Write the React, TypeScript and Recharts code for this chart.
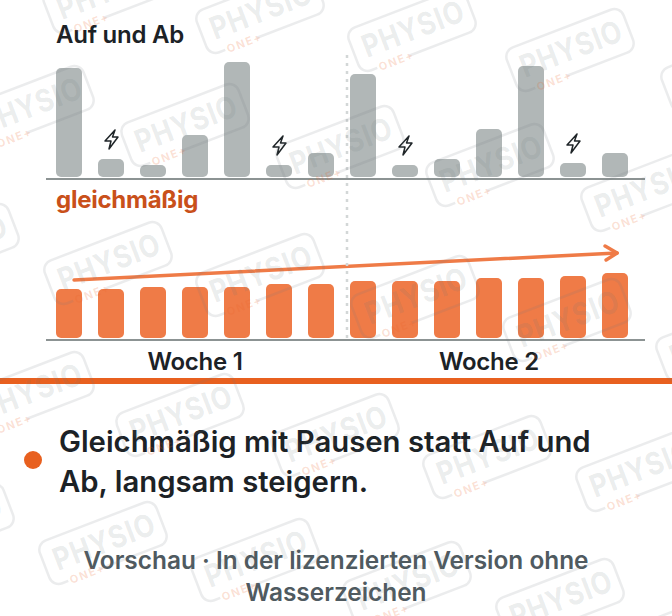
import { BarChart, Bar, ComposedChart, Line, XAxis, YAxis, LabelList } from 'recharts';

// Heights
const days = ['M1', 'D1', 'M2', 'D2', 'F1', 'S1', 'S2', 'M3', 'D3', 'M4', 'D4', 'F2', 'S3', 'S4'];
const upDown = [109, 18, 12, 42, 115, 12, 24, 103, 12, 18, 48, 111, 14, 24];
const steady = [49, 49, 51, 51, 51, 54, 54, 57, 57, 57, 60, 60, 62, 65];
const restDays = [1, 5, 8, 12];
const trendPos = [0.12, 13.05];
const trendVal = [58, 85];
const weekLabels = ['Woche 1', 'Woche 2'];

// Watermark stamp centres
const stamps = [
  [107, -8], [260, 12], [412, 30], [570, 50], [725, 70],
  [30, 107], [185, 125], [340, 147], [490, 165], [645, 190],
  [-45, 245], [108, 263], [260, 275], [415, 297], [567, 320], [720, 340],
  [30, 393], [180, 415], [335, 435], [487, 457], [640, 470],
  [-50, 525], [103, 543], [255, 560], [407, 583], [560, 600], [715, 620],
];

const upDownData = days.map((day, i) => ({ day, value: upDown[i] }));
const steadyData = days.map((day, i) => ({ day, value: steady[i] }));
const trendData = trendPos.map((pos, i) => ({ pos, trend: trendVal[i] }));

const font = 'Inter, "Noto Sans", sans-serif';
const axisLine = { stroke: '#8c9393', strokeWidth: 2 };
const orange = '#ef7b47';

function Bolt(props: any) {
  const { x, y, width, index } = props;
  if (!restDays.includes(index)) return null;
  return (
    <path
      transform={`translate(${x + width / 2},${y - 20})`}
      d="M4 -9 L-6 2 L0 2 L-2 10 L7 -2 L1.5 -2 Z"
      fill="none"
      stroke="#1f2528"
      strokeWidth={1.5}
      strokeLinejoin="round"
    />
  );
}

function ArrowHead(props: any) {
  const { cx, cy, index } = props;
  if (index !== trendPos.length - 1) return <g key={index} />;
  return (
    <path
      key={index}
      d={`M${cx - 12} ${cy - 7} L${cx} ${cy} L${cx - 11} ${cy + 7}`}
      fill="none"
      stroke={orange}
      strokeWidth={3.5}
      strokeLinecap="round"
      strokeLinejoin="round"
    />
  );
}

function Label({ x, y, w, size, color, weight = 600, center, children }: any) {
  return (
    <div
      style={{
        position: 'absolute',
        left: x,
        top: y,
        width: w,
        fontFamily: font,
        fontSize: size,
        fontWeight: weight,
        letterSpacing: -0.25,
        color,
        textAlign: center ? 'center' : 'left',
        whiteSpace: 'nowrap',
      }}
    >
      {children}
    </div>
  );
}

export default function App() {
  return (
    <div style={{ position: 'absolute', left: 0, top: 0, width: 672, height: 616, overflow: 'hidden', background: '#fff' }}>
      <Label x={56} y={20} size={24} color="#1c2226">Auf und Ab</Label>
      <Label x={56} y={185} size={24} weight={700} color="#c9501a">gleichmäßig</Label>

      <div style={{ position: 'absolute', left: 0, top: 0 }}>
        <BarChart width={672} height={180} data={upDownData} margin={{ top: 57, right: 27, bottom: 0, left: 46 }}>
          <XAxis dataKey="day" tick={false} tickLine={false} height={1} axisLine={axisLine} padding={{ left: 2, right: 9 }} />
          <YAxis hide width={0} domain={[-2, 120]} />
          <Bar dataKey="value" fill="#b1b7b7" barSize={26} radius={5} isAnimationActive={false}>
            <LabelList dataKey="value" content={Bolt} />
          </Bar>
        </BarChart>
      </div>

      <div style={{ position: 'absolute', left: 0, top: 0 }}>
        <ComposedChart width={672} height={341} data={steadyData} margin={{ top: 238, right: 27, bottom: 0, left: 46 }}>
          <XAxis dataKey="day" tick={false} tickLine={false} height={1} axisLine={axisLine} padding={{ left: 2, right: 9 }} />
          <XAxis xAxisId="trend" type="number" dataKey="pos" hide height={0} domain={[-0.5, 13.5]} padding={{ left: 2, right: 9 }} />
          <YAxis hide width={0} domain={[-2, 100]} />
          <Bar dataKey="value" fill={orange} barSize={26} radius={5} isAnimationActive={false} />
          <Line
            xAxisId="trend"
            data={trendData}
            dataKey="trend"
            stroke={orange}
            strokeWidth={3.5}
            strokeLinecap="round"
            dot={ArrowHead}
            activeDot={false}
            isAnimationActive={false}
          />
        </ComposedChart>
      </div>

      <svg width={672} height={616} style={{ position: 'absolute', left: 0, top: 0 }}>
        <line x1={347} y1={55} x2={347} y2={340} stroke="#d3d7d7" strokeWidth={2.5} strokeDasharray="3 5" />
      </svg>

      <Label x={49} y={347} w={292} size={24} color="#1c2226" center>{weekLabels[0]}</Label>
      <Label x={343} y={347} w={292} size={24} color="#1c2226" center>{weekLabels[1]}</Label>

      <div style={{ position: 'absolute', left: 0, top: 378, width: 672, height: 6, background: '#e8601f' }} />
      <div style={{ position: 'absolute', left: 24, top: 451, width: 18, height: 18, borderRadius: 9, background: '#e8601f' }} />

      <div style={{ position: 'absolute', left: 59, top: 422, width: 560, fontFamily: font, fontSize: 29.3, lineHeight: '40px', fontWeight: 600, color: '#1c2226' }}>
        Gleichmäßig mit Pausen statt Auf und Ab, langsam steigern.
      </div>
      <div style={{ position: 'absolute', left: 36, top: 544, width: 600, fontFamily: font, fontSize: 24.4, lineHeight: '32px', fontWeight: 600, color: '#4f5a60', textAlign: 'center' }}>
        Vorschau · In der lizenzierten Version ohne Wasserzeichen
      </div>

      {/* Watermark */}
      <svg width={672} height={616} style={{ position: 'absolute', left: 0, top: 0, pointerEvents: 'none' }}>
        {stamps.map(([cx, cy]) => (
          <g key={`${cx}-${cy}`} transform={`translate(${cx},${cy}) rotate(-21)`} fontFamily={font}>
            <path
              d="M-12 23 H52.5 a10 10 0 0 0 10 -10 V-13 a10 10 0 0 0 -10 -10 H-52.5 a10 10 0 0 0 -10 10 V13 a10 10 0 0 0 10 10 H-46"
              fill="none"
              stroke="rgba(110,120,125,0.14)"
              strokeWidth={2.5}
            />
            <text transform="translate(-52,10) scale(0.86,1)" fontSize={31} fontWeight={700} letterSpacing={1} fill="rgba(110,120,125,0.15)">PHYSIO</text>
            <text x={-44} y={27} fontSize={11} fontWeight={700} letterSpacing={1.5} fill="rgba(235,100,40,0.2)">ONE+</text>
          </g>
        ))}
      </svg>
    </div>
  );
}
